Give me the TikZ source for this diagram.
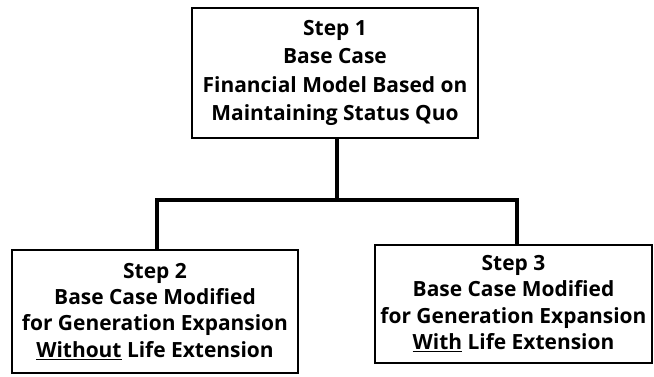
\documentclass[tikz,border=0pt]{standalone}
\usepackage{fontspec}
\setsansfont{Open Sans}
\begin{document}
\begin{tikzpicture}[x=0.75pt, y=-0.75pt]
    \tikzset{
        stepbox/.style={draw=black, line width=1.4pt, align=center, inner sep=0pt,
            font=\sffamily\bfseries\fontsize{15.7}{19.75}\selectfont},
        link/.style={line width=2.8pt}
    }
    \useasboundingbox (0,0) rectangle (654,377);
    \node[stepbox, minimum width=214.5pt, minimum height=97.5pt,
        font=\sffamily\bfseries\fontsize{15.7}{21.25}\selectfont] (s1) at (335, 73)
        {Step 1\\Base Case\\Financial Model Based on\\Maintaining Status Quo};
    \node[stepbox, minimum width=214.5pt, minimum height=92.25pt] (s2) at (155, 311.5)
        {Step 2\\Base Case Modified\\for Generation Expansion\\\underline{Without} Life Extension};
    \node[stepbox, minimum width=207.75pt, minimum height=88.5pt] (s3) at (513.5, 304)
        {Step 3\\Base Case Modified\\for Generation Expansion\\\underline{With} Life Extension};
    \coordinate (split) at (337, 200);
    \draw[link] (s1.south -| split) -- (split);
    \draw[link] (s2.north -| 157, 0) |- (split) -| (s3.north -| 517, 0);
\end{tikzpicture}
\end{document}
